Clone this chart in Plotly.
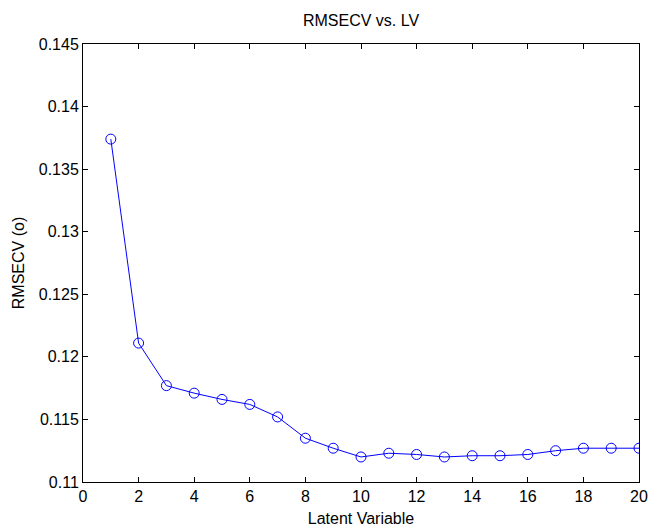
import plotly.graph_objects as go

lv = list(range(1, 21))
rmsecv = [0.1374, 0.1211, 0.1177, 0.1171, 0.1166, 0.1162, 0.1152, 0.1135, 0.1127, 0.1120,
          0.1123, 0.1122, 0.1120, 0.1121, 0.1121, 0.1122, 0.1125, 0.1127, 0.1127, 0.1127]

fig = go.Figure(go.Scatter(
    x=lv, y=rmsecv, mode="lines+markers",
    line=dict(color="#0000ff", width=1),
    marker=dict(symbol="circle-open", size=10, color="#0000ff", line=dict(width=1)),
))

FONT = "Liberation Sans, Arial"
FS = 16
axis_common = dict(
    showgrid=False, zeroline=False, showline=True, linecolor="black", linewidth=1,
    mirror="ticks", ticks="inside", ticklen=5, tickcolor="black",
    tickfont=dict(family=FONT, size=FS, color="black"),
)
fig.update_xaxes(range=[0, 20], tickvals=list(range(0, 21, 2)), ticklabeloverflow="allow",
                 title=dict(text="Latent Variable", font=dict(family=FONT, size=FS, color="black"), standoff=8),
                 **axis_common)
fig.update_yaxes(range=[0.11, 0.145], tickvals=[0.11, 0.115, 0.12, 0.125, 0.13, 0.135, 0.14, 0.145],
                 ticktext=["0.11", "0.115", "0.12", "0.125", "0.13", "0.135", "0.14", "0.145"],
                 title=dict(text="RMSECV (o)", font=dict(family=FONT, size=FS, color="black"), standoff=10),
                 **axis_common)
fig.update_layout(
    width=648, height=527,
    margin=dict(l=83, r=9, t=44, b=45, autoexpand=False),
    paper_bgcolor="white", plot_bgcolor="white",
    showlegend=False,
    title=dict(text="RMSECV vs. LV", x=(83 + 639) / 2 / 648, xanchor="center", y=1 - 20 / 527, yanchor="middle",
               font=dict(family=FONT, size=FS, color="black")),
)
fig.write_html("out.html", config={"displayModeBar": False},
               post_script="document.body.style.margin='0';document.body.style.overflow='hidden';")
